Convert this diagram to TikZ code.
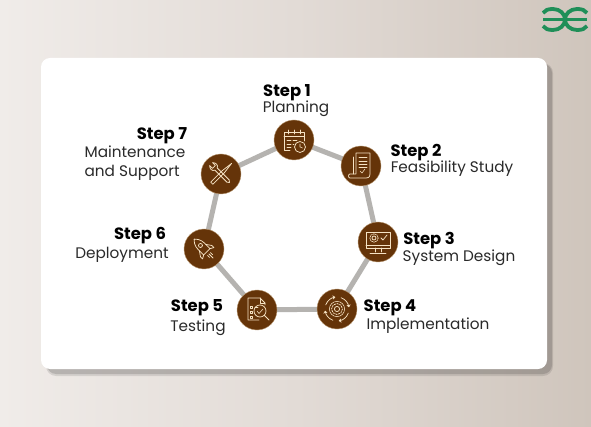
\documentclass[tikz,border=0pt]{standalone}
\usepackage{fontspec}
\setmainfont{Poppins}
\usetikzlibrary{calc,arrows.meta}
\definecolor{bgL}{HTML}{F0ECE9}
\definecolor{bgM}{HTML}{E2DBD6}
\definecolor{bgR}{HTML}{CFC5BC}
\definecolor{brn}{HTML}{653409}
\definecolor{crm}{HTML}{F6E3C4}
\definecolor{lnk}{HTML}{B5B3B0}
\definecolor{gfg}{HTML}{1F8F58}
\definecolor{txt}{HTML}{2A2A2A}
\tikzset{
  stepdot/.style={circle,fill=brn,draw=crm!60!brn,line width=0.4pt,minimum size=40pt,inner sep=0pt},
  link/.style={draw=lnk,line width=5pt},
  ttl/.style={font=\fontsize{16.4}{18}\selectfont\bfseries,text=black,inner sep=0pt,anchor=center},
  sub/.style={font=\fontsize{15.3}{18.5}\selectfont,text=txt,inner sep=0pt,anchor=center,align=left},
  ico/.style={draw=crm,line width=0.75pt,line cap=round,line join=round},
  icothin/.style={draw=crm,line width=0.55pt,line cap=round,line join=round}
}
\begin{document}
\begin{tikzpicture}[x=1pt,y=-1pt]
\useasboundingbox (0,0) rectangle (591,427);
% background
\shade[left color=bgL,right color=bgR,middle color=bgM] (0,0) rectangle (591,427);
% card shadow and card
\fill[black,opacity=.10,rounded corners=10pt] (46,63) rectangle (553,376);
\fill[black,opacity=.14,rounded corners=9pt] (47,64) rectangle (552,374);
\fill[white,rounded corners=9pt] (41,58) rectangle (547,369);
% coordinates of the ring, so that the links pass under the discs
\coordinate (c1) at (294,140);
\coordinate (c2) at (361,166);
\coordinate (c3) at (378,242);
\coordinate (c4) at (337,309);
\coordinate (c5) at (257,310);
\coordinate (c6) at (204,249);
\coordinate (c7) at (221,174);
% connectors
\draw[link] (c1) -- (c2);
\draw[link] (c2) -- (c3);
\draw[link] (c3) -- (c4);
\draw[link] (c4) -- (c5);
\draw[link] (c5) -- (c6);
\draw[link] (c6) -- (c7);
\draw[link] (c7) -- (c1);
% nodes
\node[stepdot] (s1) at (c1) {};
\node[stepdot] (s2) at (c2) {};
\node[stepdot] (s3) at (c3) {};
\node[stepdot] (s4) at (c4) {};
\node[stepdot] (s5) at (c5) {};
\node[stepdot] (s6) at (c6) {};
\node[stepdot] (s7) at (c7) {};
% icon 1: calendar + clock
\begin{scope}[shift={(s1)}]
\draw[ico] (-4,10) -- (-10,10) -- (-10,-8) -- (10,-8) -- (10,1);
\draw[ico] (-10,-3.5) -- (10,-3.5);
\draw[ico] (-6,-10) -- (-6,-6) (0,-10) -- (0,-6) (6,-10) -- (6,-6);
\draw[icothin] (-7,0) -- (-3,0) (-1,0) -- (3,0) (-7,4) -- (-3,4) (-1,4) -- (0,4) (-7,7) -- (-3,7);
\draw[ico,fill=brn] (6,7) circle (5.5);
\draw[icothin] (6,4) -- (6,7) -- (8.5,8);
\end{scope}
% icon 2: document
\begin{scope}[shift={(s2)}]
\draw[ico] (-5,-13) -- (9,-13) -- (9,8) .. controls (9,12) and (6,12) .. (5,12) -- (-11,12) .. controls (-13,12) and (-13,8) .. (-11,8) -- (-5,8) -- (-5,-13);
\draw[ico] (-8,-9) -- (-8,8);
\draw[icothin] (-2,-9) -- (6,-9) (-2,-5) -- (6,-5) (-2,-2) -- (6,-2) (-2,1) -- (6,1);
\draw[icothin] (-1,5) -- (1,7) -- (4,3);
\end{scope}
% icon 3: monitor
\begin{scope}[shift={(s3)}]
\draw[ico] (-12,-10) rectangle (12,6);
\draw[ico] (-12,3) -- (12,3);
\draw[ico] (-3,6) -- (-3,10) (3,6) -- (3,10) (-8,11) -- (8,11);
\draw[ico] (-4,-4) circle (2);
\draw[ico,dash pattern=on 1pt off 1pt] (-4,-4) circle (4.2);
\draw[ico] (3,-4) -- (5,-2) -- (9,-7);
\end{scope}
% icon 4: gear with cycle arrows
\begin{scope}[shift={(s4)}]
\draw[ico] (0,0) circle (2.6);
\draw[ico,dash pattern=on 1.6pt off 1.2pt] (0,0) circle (5.5);
\draw[icothin] (0,0) circle (7.6);
\foreach \a in {20,110,200,290}{
  \draw[ico,-{Straight Barb[length=2pt,width=3.5pt]}] (\a:12) arc[start angle=\a,end angle=\a+62,radius=12];
}
\end{scope}
% icon 5: report with magnifier
\begin{scope}[shift={(s5)}]
\draw[ico] (2,10) -- (-9,10) -- (-9,-12) -- (3,-12) -- (8,-7) -- (8,-5);
\draw[ico] (3,-12) -- (3,-7) -- (8,-7);
\draw[icothin] (-7,-4) rectangle (-4.5,-1.5) (-7,1) rectangle (-4.5,3.5) (-7,6) rectangle (-4.5,8);
\draw[icothin] (-2,-3) -- (1,-3);
\draw[ico] (3,1) circle (6);
\draw[icothin] (0,1) -- (2,3.5) -- (6,-1);
\draw[ico] (7.5,5.5) -- (12,10);
\end{scope}
% icon 6: rocket
\begin{scope}[shift={(s6)}]
\begin{scope}[rotate=45]
\draw[ico] (-4.5,4) -- (-4.5,-4) .. controls (-4.5,-9) and (-2,-12) .. (0,-14) .. controls (2,-12) and (4.5,-9) .. (4.5,-4) -- (4.5,4) -- cycle;
\draw[ico] (0,-5) circle (2);
\draw[ico] (-4.5,-2) -- (-8,3) -- (-8,6) -- (-4.5,4);
\draw[ico] (4.5,-2) -- (8,3) -- (8,6) -- (4.5,4);
\draw[ico] (-2,7) -- (-2,10) (2,7) -- (2,10) (0,7) -- (0,13);
\end{scope}
\end{scope}
% icon 7: crossed tools
\begin{scope}[shift={(s7)}]
\begin{scope}[rotate=45]
\draw[ico] (-1.6,-7) -- (-1.6,10) -- (0,12) -- (1.6,10) -- (1.6,-7);
\draw[ico] (-1.6,-7) .. controls (-4.5,-8) and (-4.5,-12) .. (-2,-14) -- (-2,-10) -- (2,-10) -- (2,-14) .. controls (4.5,-12) and (4.5,-8) .. (1.6,-7);
\end{scope}
\begin{scope}[rotate=-45]
\draw[ico] (-1.5,-3) -- (-1.5,13) -- (1.5,13) -- (1.5,-3);
\draw[ico] (-1.5,-3) -- (0,-15) -- (1.5,-3);
\end{scope}
\end{scope}
% labels
\node[ttl] (t1) at (287,93) {Step 1};
\node[sub] (l1) at (296,109) {Planning};
\node[ttl] (t2) at (416,153) {Step 2};
\node[sub] (l2) at (452,169) {Feasibility Study};
\node[ttl] (t3) at (429,241) {Step 3};
\node[sub] (l3) at (459,258) {System Design};
\node[ttl] (t4) at (390,308) {Step 4};
\node[sub] (l4) at (428,326) {Implementation};
\node[ttl] (t5) at (197,308) {Step 5};
\node[sub] (l5) at (198,328) {Testing};
\node[ttl] (t6) at (140,236) {Step 6};
\node[sub] (l6) at (122,255) {Deployment};
\node[ttl] (t7) at (162,136) {Step 7};
\node[sub] (l7) at (135,163) {Maintenance\\and Support};
% logo
\begin{scope}[line width=3.8pt,gfg]
\draw (543,19.5) -- (587,19.5);
\draw (543,13) .. controls (545,10) and (548,9) .. (553,9) .. controls (560,9) and (565,14) .. (565,19.5) .. controls (565,25) and (560,30) .. (553,30) .. controls (548,30) and (545,29) .. (543,26);
\draw (587,13) .. controls (585,10) and (582,9) .. (577,9) .. controls (570,9) and (565,14) .. (565,19.5) .. controls (565,25) and (570,30) .. (577,30) .. controls (582,30) and (585,29) .. (587,26);
\end{scope}
\end{tikzpicture}
\end{document}
